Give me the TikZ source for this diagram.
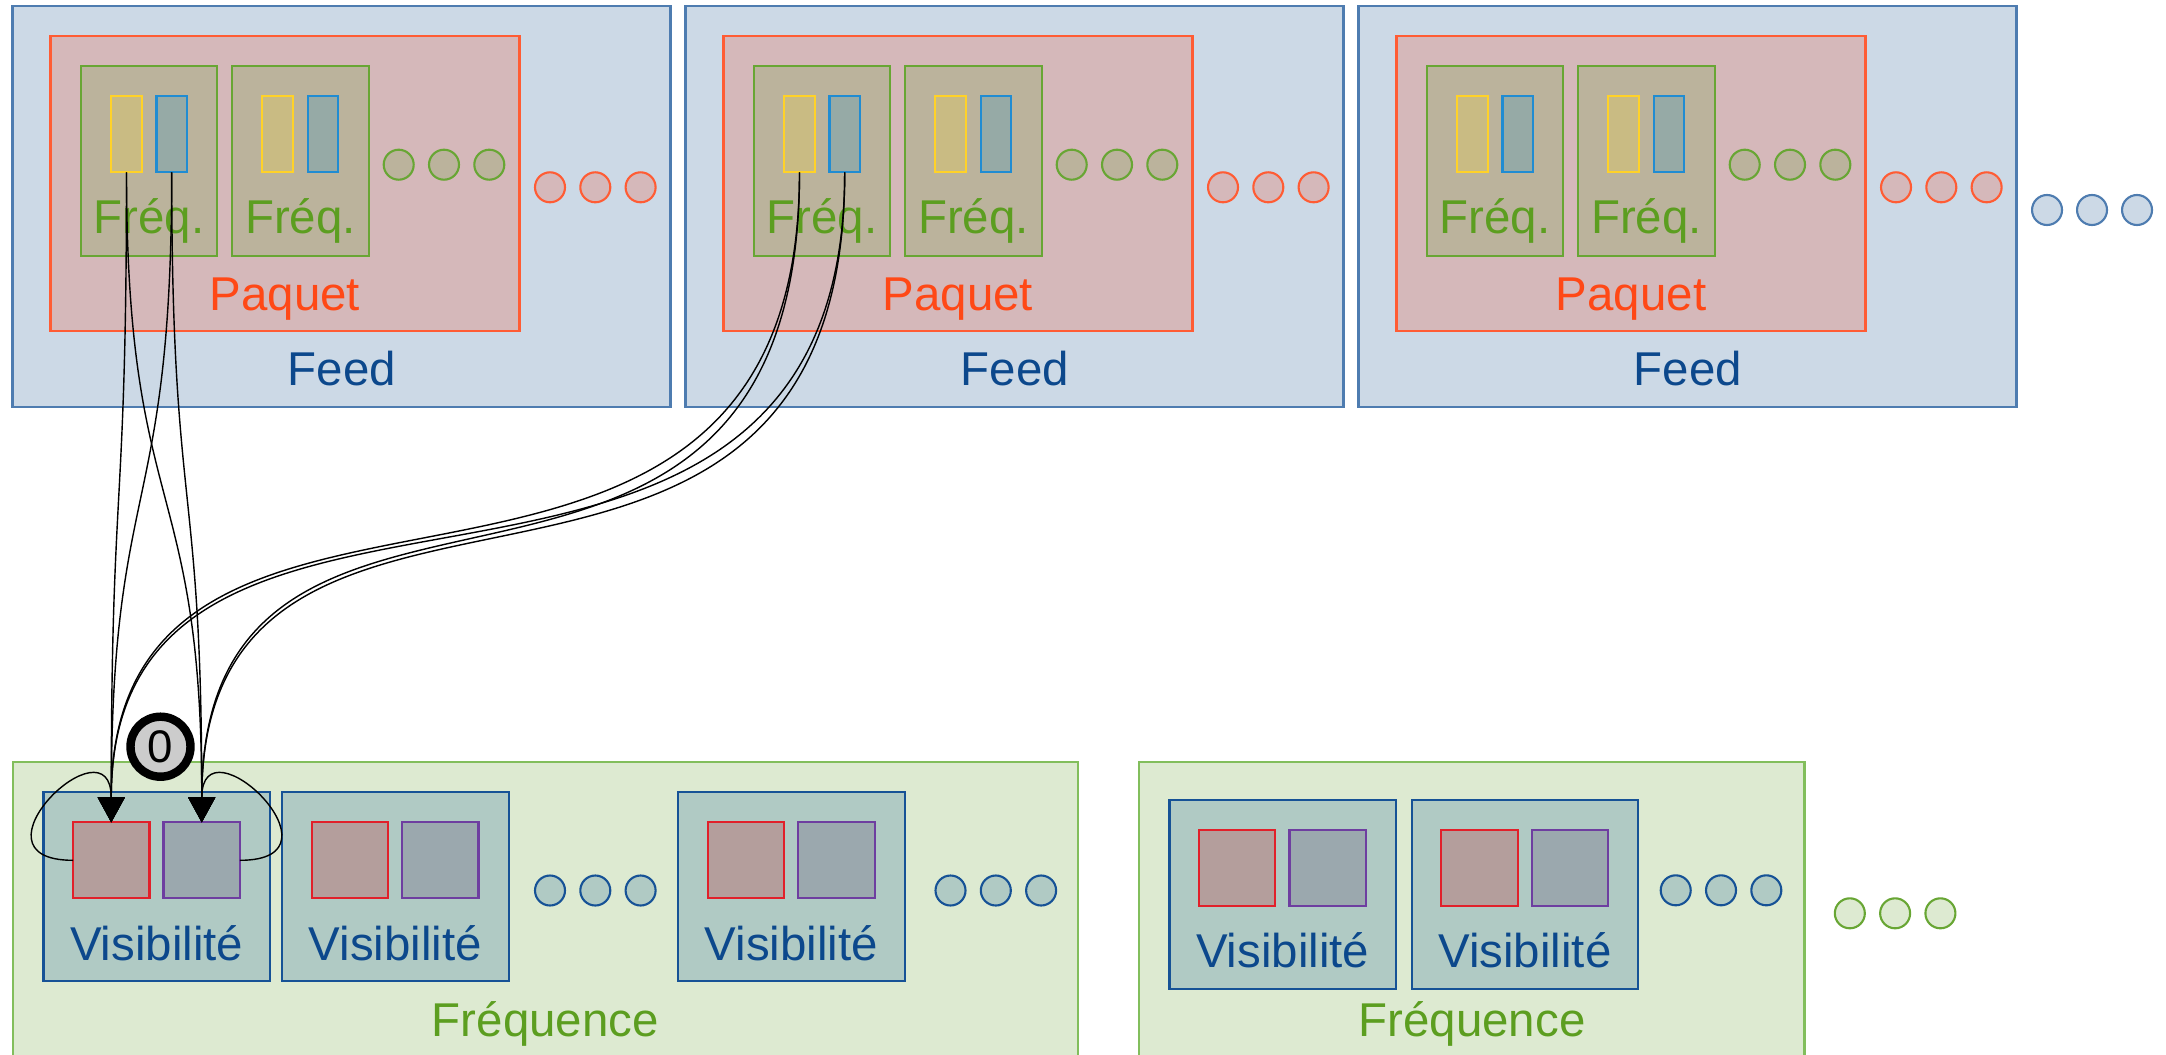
\documentclass[tikz,border=0pt]{standalone}
\usepackage{fontspec}
\setmainfont{Liberation Sans}
\usepackage{tikz}
\usetikzlibrary{arrows.meta, positioning}
\definecolor{feedfill}{RGB}{204,217,230}
\definecolor{feedline}{RGB}{78,124,176}
\definecolor{feedtext}{RGB}{12,72,140}
\definecolor{pakfill}{RGB}{213,184,186}
\definecolor{pakline}{RGB}{255,92,52}
\definecolor{paktext}{RGB}{255,72,22}
\definecolor{freqfill}{RGB}{187,179,156}
\definecolor{freqline}{RGB}{104,166,52}
\definecolor{freqtext}{RGB}{92,158,32}
\definecolor{yelfill}{RGB}{201,187,131}
\definecolor{yelline}{RGB}{255,210,40}
\definecolor{blufill}{RGB}{150,170,166}
\definecolor{bluline}{RGB}{32,140,210}
\definecolor{frqfill}{RGB}{221,234,209}
\definecolor{frqline}{RGB}{130,190,92}
\definecolor{visfill}{RGB}{176,202,196}
\definecolor{visline}{RGB}{22,82,150}
\definecolor{redfill}{RGB}{180,158,156}
\definecolor{redline}{RGB}{225,32,42}
\definecolor{purfill}{RGB}{155,168,174}
\definecolor{purline}{RGB}{110,62,160}
\definecolor{badgegray}{RGB}{204,204,204}

\begin{document}
\begin{tikzpicture}[>={Triangle[length=2.5mm,width=2.7mm]}]
  \tikzstyle{box} = [rectangle, inner sep=0pt, outer sep=0pt, line width=0.6pt]
  \tikzstyle{feedbox} = [box, draw=feedline, fill=feedfill, minimum width=6.58cm, minimum height=4.01cm]
  \tikzstyle{pakbox} = [box, draw=pakline, fill=pakfill, minimum width=4.69cm, minimum height=2.95cm]
  \tikzstyle{freqbox} = [box, draw=freqline, fill=freqfill, minimum width=1.366cm, minimum height=1.894cm]
  \tikzstyle{yelbar} = [box, draw=yelline, fill=yelfill, minimum width=0.305cm, minimum height=0.76cm]
  \tikzstyle{blubar} = [box, draw=bluline, fill=blufill, minimum width=0.305cm, minimum height=0.76cm]
  \tikzstyle{frqbox} = [box, draw=frqline, fill=frqfill, minimum height=2.96cm]
  \tikzstyle{visbox} = [box, draw=visline, fill=visfill, minimum width=2.265cm, minimum height=1.89cm]
  \tikzstyle{redsq} = [box, draw=redline, fill=redfill, minimum width=0.764cm, minimum height=0.76cm]
  \tikzstyle{pursq} = [box, draw=purline, fill=purfill, minimum width=0.764cm, minimum height=0.76cm]
  \tikzstyle{dot} = [circle, inner sep=0pt, outer sep=0pt, minimum size=0.3cm, line width=0.6pt]
  \tikzstyle{lbl} = [anchor=base, inner sep=0pt, font=\fontsize{13.5}{16}\selectfont]
  \tikzstyle{link} = [->, black, line width=0.4pt]
  \tikzstyle{badge} = [circle, draw=black, fill=badgegray, line width=2.4pt, minimum size=0.6cm, inner sep=0pt, font=\fontsize{13}{16}\selectfont]

  \useasboundingbox (0,0) rectangle (21.66,-10.54);

  % Row 1: Feeds, each with one Paquet of Fréq. blocks
  \foreach \i/\o in {1/0, 2/6.73, 3/13.46} {
    \node [feedbox] (feed\i) at (3.415+\o, -2.063) {};
    \node [pakbox] (pak\i) at (2.85+\o, -1.835) {};
    \node [freqbox] (fa\i) at (1.491+\o, -1.61) {};
    \node [freqbox] (fb\i) at (3.004+\o, -1.61) {};
    \node [yelbar] (ya\i) at (1.265+\o, -1.343) {};
    \node [blubar] (ba\i) at (1.717+\o, -1.343) {};
    \node [yelbar] (yb\i) at (2.776+\o, -1.343) {};
    \node [blubar] (bb\i) at (3.230+\o, -1.343) {};
    \node [lbl, text=freqtext] (falbl\i) at (1.491+\o, -2.33) {Fréq.};
    \node [lbl, text=freqtext] (fblbl\i) at (3.004+\o, -2.33) {Fréq.};
    \node [lbl, text=paktext] (paklbl\i) at (2.85+\o, -3.10) {Paquet};
    \node [lbl, text=feedtext] (feedlbl\i) at (3.42+\o, -3.85) {Feed};
    \foreach \j in {0,1,2} {
      \node [dot, draw=freqline, fill=freqfill] (gdot\i\j) at (3.987+\o+0.453*\j, -1.647) {};
      \node [dot, draw=pakline, fill=pakfill] (rdot\i\j) at (5.50+\o+0.453*\j, -1.873) {};
    }
  }
  \foreach \j in {0,1,2}
    \node [dot, draw=feedline, fill=feedfill] (fdot\j) at (20.47+0.45*\j, -2.10) {};

  % Row 2: Fréquence blocks of Visibilité
  \node [frqbox, minimum width=10.654cm] (frq1) at (5.453, -9.099) {};
  \node [frqbox, minimum width=6.658cm] (frq2) at (14.716, -9.10) {};
  \foreach \i/\x/\y in {1/1.5675/-8.868, 2/3.953/-8.868, 3/7.9135/-8.868, 4/12.827/-8.9435, 5/15.249/-8.9435} {
    \node [visbox] (vis\i) at (\x, \y) {};
    \node [redsq] (sr\i) at (\x-0.455, \y+0.265) {};
    \node [pursq] (sp\i) at (\x+0.45, \y+0.265) {};
    \node [lbl, text=feedtext] (vislbl\i) at (\x, \y-0.735) {Visibilité};
  }
  \node [lbl, text=freqtext] (frqlbl1) at (5.453, -10.367) {Fréquence};
  \node [lbl, text=freqtext] (frqlbl2) at (14.72, -10.367) {Fréquence};
  \foreach \j in {0,1,2} {
    \node [dot, draw=visline, fill=visfill] (vdot\j) at (5.50+0.453*\j, -8.905) {};
    \node [dot, draw=visline, fill=visfill] (wdot\j) at (9.505+0.453*\j, -8.905) {};
    \node [dot, draw=visline, fill=visfill] (xdot\j) at (16.757+0.453*\j, -8.903) {};
    \node [dot, draw=freqline, fill=frqfill] (qdot\j) at (18.498+0.453*\j, -9.133) {};
  }

  % Links into the first Visibilité
  \draw[link] (ya1.south) .. controls +(0,-3.5) and +(0,3.5) .. (sr1.north);
  \draw[link] (ya1.south) .. controls +(0,-3.5) and +(0,3.5) .. (sp1.north);
  \draw[link] (ba1.south) .. controls +(0,-3.5) and +(0,3.5) .. (sr1.north);
  \draw[link] (ba1.south) .. controls +(0,-3.5) and +(0,3.5) .. (sp1.north);
  \draw[link] (ya2.south) .. controls +(0,-5.5) and +(0,4.5) .. (sr1.north);
  \draw[link] (ba2.south) .. controls +(0,-5.5) and +(0,4.5) .. (sr1.north);
  \draw[link] (ya2.south) .. controls +(0,-5.5) and +(0,4.5) .. (sp1.north);
  \draw[link] (ba2.south) .. controls +(0,-5.5) and +(0,4.5) .. (sp1.north);
  \draw[link] (sr1.west) .. controls +(-1.13,0) and +(0,1.07) .. (sr1.north);
  \draw[link] (sp1.east) .. controls +(1.13,0) and +(0,1.07) .. (sp1.north);

  \node [badge] (step0) at (1.605, -7.467) {0};
\end{tikzpicture}
\end{document}
